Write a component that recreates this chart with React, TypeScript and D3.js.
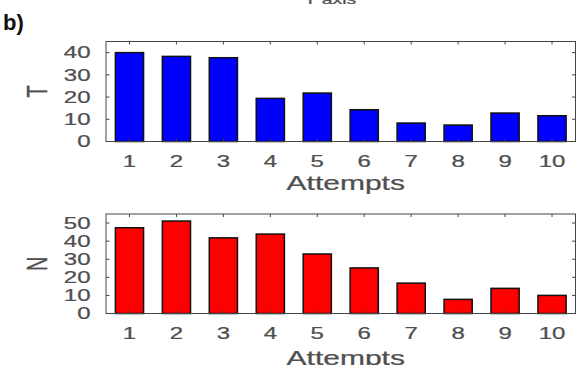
import React from "react";
import { scaleLinear } from "d3";

// values
const attempts = [1, 2, 3, 4, 5, 6, 7, 8, 9, 10];
const tValues = [40, 38.3, 37.7, 19.4, 21.8, 14.3, 8.3, 7.4, 12.8, 11.6];
const nValues = [47.4, 51.1, 41.8, 43.9, 32.9, 25.2, 16.8, 7.8, 13.9, 10];
const tTicks = [0, 10, 20, 30, 40];
const nTicks = [0, 10, 20, 30, 40, 50];

const width = 576;
const height = 365;
const left = 106;
const right = 575.5;
const sx = 1.5; // the picture is stretched sideways
const font = "Arial, 'Liberation Sans', sans-serif";
const labelColor = "#4f4f4f";
const axisColor = "#444";

const SText = ({ x, y, size, anchor = "middle", children, rotate = 0, color = labelColor }) => (
  <text
    transform={`translate(${x},${y}) scale(${sx},1)${rotate ? ` rotate(${rotate})` : ""}`}
    fontFamily={font}
    fontSize={size}
    textAnchor={anchor}
    fill={color}
    stroke={color}
    strokeWidth={0.25}
  >
    {children}
  </text>
);

const Panel = ({ values, ticks, yMax, top, bottom, color, ylabel, xLabelY, titleY }) => {
  const x = scaleLinear().domain([0.5, 10.5]).range([left, right]);
  const y = scaleLinear().domain([0, yMax]).range([bottom, top]);
  const barW = x(1.6) - x(1);
  const mid = (top + bottom) / 2;

  return (
    <g>
      {values.map((v, i) => (
        <rect
          key={i}
          x={x(attempts[i]) - barW / 2}
          y={y(v)}
          width={barW}
          height={y(0) - y(v)}
          fill={color}
          stroke="#111"
          strokeWidth={1.5}
        />
      ))}
      <rect x={left} y={top} width={right - left} height={bottom - top} fill="none" stroke={axisColor} strokeWidth={1} />
      {/* inward ticks */}
      {attempts.map((a) => (
        <g key={a}>
          <line x1={x(a)} x2={x(a)} y1={top} y2={top + 3} stroke={axisColor} />
          <line x1={x(a)} x2={x(a)} y1={bottom} y2={bottom - 3} stroke={axisColor} />
          <SText x={x(a)} y={xLabelY} size={16}>{a}</SText>
        </g>
      ))}
      {ticks.map((t) => (
        <g key={t}>
          <line x1={left} x2={left + 3.5} y1={y(t)} y2={y(t)} stroke={axisColor} />
          <line x1={right} x2={right - 3.5} y1={y(t)} y2={y(t)} stroke={axisColor} />
          <SText x={90.5} y={y(t) + 5.7} size={16} anchor="end">{t}</SText>
        </g>
      ))}
      <SText x={36.5} y={mid} size={20} rotate={-90}>
        <tspan y={7.2}>{ylabel}</tspan>
      </SText>
      <SText x={(left + right) / 2 + 5} y={titleY} size={20}>Attempts</SText>
    </g>
  );
};

const App = () => {
  return (
    <svg
      width={width}
      height={height}
      style={{ position: "absolute", left: 0, top: 0, background: "#fff" }}
    >
      <rect width={width} height={height} fill="#fff" />
      <SText x={330} y={4} size={13}>Y axis</SText>
      <text x={3} y={30} fontFamily={font} fontSize={22} fontWeight="bold" fill="#111">b)</text>
      <Panel
        values={tValues}
        ticks={tTicks}
        yMax={45}
        top={41.5}
        bottom={141.5}
        color="#0000ff"
        ylabel="T"
        xLabelY={166.5}
        titleY={190}
      />
      <Panel
        values={nValues}
        ticks={nTicks}
        yMax={55}
        top={214}
        bottom={313.5}
        color="#ff0000"
        ylabel="N"
        xLabelY={339}
        titleY={365}
      />
    </svg>
  );
};

export default App;
